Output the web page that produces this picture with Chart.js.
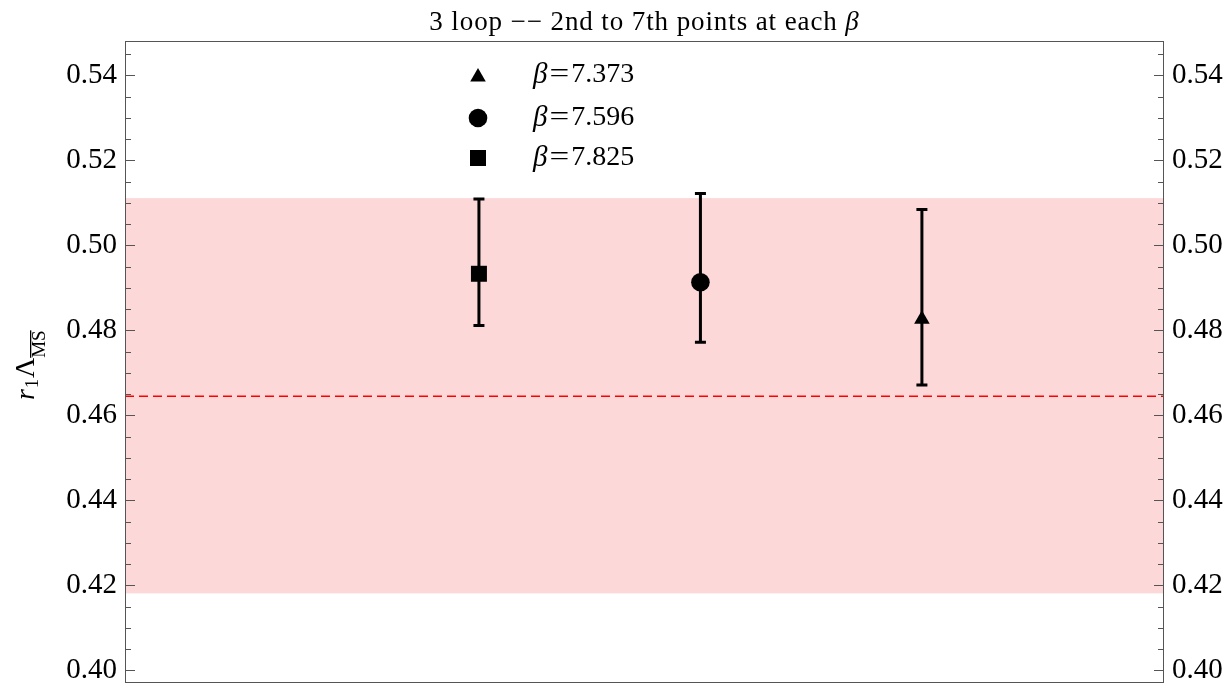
<!DOCTYPE html>
<html>
<head>
<meta charset="utf-8">
<script src="https://cdn.jsdelivr.net/npm/chart.js@4/dist/chart.umd.min.js"></script>
<style>
  html, body { margin: 0; padding: 0; background: #ffffff; }
  #wrap { width: 1232px; height: 685px; position: relative; }
</style>
</head>
<body>
<div id="wrap"><canvas id="c" width="1232" height="685"></canvas></div>
<script>
// r1 * Lambda_MSbar from 3-loop fits (2nd to 7th points) at three couplings
const betaLabels = ['7.373', '7.596', '7.825'];
const xPos       = [3, 2, 1];
const centralVal = [0.4826, 0.4913, 0.4933];
const errLow     = [0.4671, 0.4772, 0.4811];
const errHigh    = [0.5084, 0.5122, 0.5109];
const markers    = ['triangle', 'circle', 'rect'];
const markerSize = [9, 9.3, 11.3];

// combined estimate: band and central value
const bandLow  = 0.4181;
const bandHigh = 0.5111;
const bandMid  = 0.4645;

// axis ticks
const yMajorTicks = [0.40, 0.42, 0.44, 0.46, 0.48, 0.50, 0.52, 0.54];
const yMinorStep = 0.005;
const yMin = 0.39701, yMax = 0.54807;
const xMin = -0.598, xMax = 4.093;

const SERIF = '"Liberation Serif", "DejaVu Serif", serif';
const FRAME = '#555555';

const datasets = betaLabels.map((b, i) => ({
  label: '\u03B2=' + b,
  data: [{ x: xPos[i], y: centralVal[i] }],
  pointStyle: markers[i],
  pointRadius: markerSize[i],
  pointHoverRadius: markerSize[i],
  backgroundColor: '#000000',
  borderColor: '#000000',
  borderWidth: 0,
  showLine: false
}));

function shape(ctx, style, x, y, r) {
  ctx.beginPath();
  if (style === 'circle') {
    ctx.arc(x, y, r, 0, Math.PI * 2);
  } else if (style === 'rect') {
    const s = r * Math.SQRT1_2;
    ctx.rect(x - s, y - s, 2 * s, 2 * s);
  } else {
    ctx.moveTo(x, y - r);
    ctx.lineTo(x + r * Math.sin(2 * Math.PI / 3), y + r * 0.5);
    ctx.lineTo(x - r * Math.sin(2 * Math.PI / 3), y + r * 0.5);
    ctx.closePath();
  }
  ctx.fill();
}

const decor = {
  id: 'decor',
  beforeDatasetsDraw(chart) {
    const { ctx, chartArea: a, scales } = chart;
    const ys = scales.y, xs = scales.x;
    ctx.save();
    // uncertainty band
    const yTop = ys.getPixelForValue(bandHigh), yBot = ys.getPixelForValue(bandLow);
    ctx.fillStyle = '#fdd8d9';
    ctx.fillRect(a.left, yTop, a.right - a.left, yBot - yTop);
    // central value, dashed
    const ym = ys.getPixelForValue(bandMid);
    ctx.strokeStyle = '#ff0000';
    ctx.lineWidth = 1.5;
    ctx.setLineDash([9, 5]);
    ctx.beginPath();
    ctx.moveTo(a.left, ym);
    ctx.lineTo(a.right, ym);
    ctx.stroke();
    ctx.setLineDash([]);
    // frame
    ctx.strokeStyle = FRAME;
    ctx.lineWidth = 1;
    ctx.strokeRect(a.left + 0.5, a.top + 0.5, a.right - a.left - 1, a.bottom - a.top - 1);
    // inward ticks on both vertical edges
    for (let v = 0.395; v <= yMax + 1e-9; v += yMinorStep) {
      const vv = Math.round(v * 1000) / 1000;
      if (vv < yMin) continue;
      const py = Math.round(ys.getPixelForValue(vv)) + 0.5;
      const major = yMajorTicks.some(t => Math.abs(t - vv) < 1e-6);
      const len = major ? 10 : 6;
      ctx.beginPath();
      ctx.moveTo(a.left, py); ctx.lineTo(a.left + len, py);
      ctx.moveTo(a.right, py); ctx.lineTo(a.right - len, py);
      ctx.stroke();
    }
    // error bars
    ctx.strokeStyle = '#000000';
    ctx.lineWidth = 3;
    ctx.lineCap = 'butt';
    for (let i = 0; i < xPos.length; i++) {
      const px = xs.getPixelForValue(xPos[i]);
      const pHi = ys.getPixelForValue(errHigh[i]);
      const pLo = ys.getPixelForValue(errLow[i]);
      ctx.beginPath();
      ctx.moveTo(px, pHi); ctx.lineTo(px, pLo);
      ctx.moveTo(px - 5.5, pHi); ctx.lineTo(px + 5.5, pHi);
      ctx.moveTo(px - 5.5, pLo); ctx.lineTo(px + 5.5, pLo);
      ctx.stroke();
    }
    ctx.restore();
  },
  afterDraw(chart) {
    const { ctx, chartArea: a } = chart;
    ctx.save();
    ctx.fillStyle = '#000000';
    // title
    const t1 = '3 loop \u2212\u2212 2nd to 7th points at each ';
    ctx.letterSpacing = '0.9px';
    ctx.font = '27px ' + SERIF;
    const w1 = ctx.measureText(t1).width;
    ctx.font = 'italic 27px ' + SERIF;
    const w2 = ctx.measureText('\u03B2').width;
    const cx = (a.left + a.right) / 2;
    let tx = cx - (w1 + w2) / 2;
    ctx.textBaseline = 'alphabetic';
    ctx.textAlign = 'left';
    ctx.font = '27px ' + SERIF;
    ctx.fillText(t1, tx, 30);
    ctx.font = 'italic 27px ' + SERIF;
    ctx.fillText('\u03B2', tx + w1, 30);
    ctx.letterSpacing = '0px';

    // legend
    const legY = [75, 118, 158];
    for (let i = 0; i < betaLabels.length; i++) {
      shape(ctx, markers[i], 478, legY[i] + (markers[i] === 'triangle' ? 2 : 0), markerSize[i]);
      ctx.textBaseline = 'middle';
      ctx.font = 'italic 29px ' + SERIF;
      ctx.fillText('\u03B2', 533, legY[i]);
      const bw = ctx.measureText('\u03B2').width;
      ctx.font = '28px ' + SERIF;
      const eqW = ctx.measureText('=').width;
      const eqX = 533 + bw + 2;
      ctx.save();
      ctx.translate(eqX, legY[i]);
      ctx.scale(1.25, 1);
      ctx.fillText('=', 0, 0);
      ctx.restore();
      ctx.fillText(betaLabels[i], eqX + eqW * 1.25 + 2, legY[i]);
    }

    // y-axis title: r_1 Lambda_{MS-bar}
    ctx.translate(34, 400);
    ctx.rotate(-Math.PI / 2);
    ctx.textBaseline = 'alphabetic';
    let ox = 0;
    ctx.font = 'italic 28px ' + SERIF;
    ctx.fillText('r', ox, 0); ox += ctx.measureText('r').width + 1;
    ctx.font = '18px ' + SERIF;
    ctx.fillText('1', ox, 4); ox += ctx.measureText('1').width + 1;
    ctx.font = '28px ' + SERIF;
    ctx.fillText('\u039B', ox, 0); ox += ctx.measureText('\u039B').width;
    ctx.font = '19px ' + SERIF;
    const msw = ctx.measureText('MS').width;
    ctx.fillText('MS', ox, 11);
    ctx.fillRect(ox, -4, msw, 1.3);
    ctx.restore();
  }
};

function fitLeft(s) { s.width = 125; s.paddingTop = 0; s.paddingBottom = 0; }
function fitRight(s) { s.width = 68; s.paddingTop = 0; s.paddingBottom = 0; }

new Chart(document.getElementById('c'), {
  type: 'scatter',
  data: { datasets },
  options: {
    responsive: false,
    animation: false,
    events: [],
    layout: { autoPadding: false, padding: { top: 41, bottom: 2, left: 0, right: 0 } },
    plugins: { legend: { display: false }, tooltip: { enabled: false }, title: { display: false } },
    scales: {
      x: { type: 'linear', min: xMin, max: xMax, display: false },
      y: {
        type: 'linear', position: 'left', min: yMin, max: yMax,
        grid: { display: false, drawTicks: false },
        border: { display: false },
        afterBuildTicks: s => { s.ticks = yMajorTicks.map(v => ({ value: v })); },
        afterFit: fitLeft,
        ticks: { padding: 8, color: '#000000', font: { family: SERIF, size: 29 }, callback: v => Number(v).toFixed(2) }
      },
      y2: {
        type: 'linear', position: 'right', min: yMin, max: yMax,
        grid: { display: false, drawTicks: false },
        border: { display: false },
        afterBuildTicks: s => { s.ticks = yMajorTicks.map(v => ({ value: v })); },
        afterFit: fitRight,
        ticks: { padding: 8, color: '#000000', font: { family: SERIF, size: 29 }, callback: v => Number(v).toFixed(2) }
      }
    }
  },
  plugins: [decor]
});
</script>
</body>
</html>
